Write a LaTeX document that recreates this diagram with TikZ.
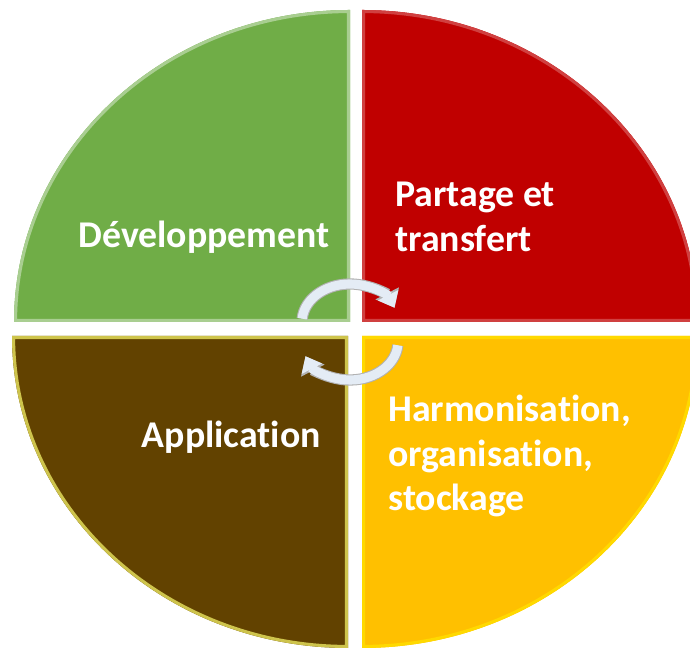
\documentclass[tikz,border=0pt]{standalone}
\usepackage{fontspec}
\setsansfont{Carlito}[Ligatures=NoCommon]
\usetikzlibrary{arrows.meta,calc}
\definecolor{devgreen}{HTML}{70AD47}
\definecolor{partred}{HTML}{C00000}
\definecolor{harmyellow}{HTML}{FFC000}
\definecolor{applbrown}{HTML}{624200}
\definecolor{cycfill}{HTML}{E4ECF5}
\begin{document}
\begin{tikzpicture}[x=0.02cm,y=0.02cm,
  rim/.style={line width=3.5pt},
  lbl/.style={text=white,font=\sffamily\bfseries\fontsize{21.5}{25.2}\selectfont,inner sep=0pt},
  cyc/.style={line width=5.2pt,cycfill,-{Triangle[width=12.5pt,length=8pt]}},
  cycedge/.style={line width=6.4pt,black!30,-{Triangle[width=14.5pt,length=9.2pt]}}]
\useasboundingbox (0,0) rectangle (690,648);
\clip (0,0) rectangle (690,648);

% quadrants
\begin{scope}
\clip (350,326) -- (14,326) arc (180:90:336 and 312) -- cycle;
\fill[devgreen] (0,0) rectangle (690,648);
\draw[rim,devgreen!60!white] (350,326) -- (14,326) arc (180:90:336 and 312) -- cycle;
\end{scope}
\begin{scope}
\clip (362,326) -- (362,638) arc (90:0:336 and 312) -- cycle;
\fill[partred] (0,0) rectangle (690,648);
\draw[rim,partred!75!white] (362,326) -- (362,638) arc (90:0:336 and 312) -- cycle;
\end{scope}
\begin{scope}
\clip (362,312) -- (698,312) arc (0:-90:336 and 312) -- cycle;
\fill[harmyellow] (0,0) rectangle (690,648);
\draw[rim,harmyellow!60!yellow] (362,312) -- (698,312) arc (0:-90:336 and 312) -- cycle;
\end{scope}
\begin{scope}
\clip (348,312) -- (348,0) arc (270:180:336 and 312) -- cycle;
\fill[applbrown] (0,0) rectangle (690,648);
\draw[rim,applbrown!45!yellow!70!white] (348,312) -- (348,0) arc (270:180:336 and 312) -- cycle;
\end{scope}

% labels
\node[lbl,anchor=east] (dev) at (330,411) {Développement};
\node[lbl,anchor=west,align=left] (part) at (395,431) {Partage et\\transfert};
\node[lbl,anchor=east] (appl) at (321,211) {Application};
\node[lbl,anchor=west,align=left] (harm) at (388,192) {Harmonisation,\\organisation,\\stockage};

% cycle arrows
\coordinate (cycA) at ($(350,326)+(175:48 and 38)$);
\coordinate (cycB) at ($(350,306)+(-5:48 and 38)$);
\draw[cycedge] (cycA) arc (175:22:48 and 38);
\draw[cyc] (cycA) arc (175:22:48 and 38);
\draw[cycedge] (cycB) arc (-5:-158:48 and 38);
\draw[cyc] (cycB) arc (-5:-158:48 and 38);
\end{tikzpicture}
\end{document}
